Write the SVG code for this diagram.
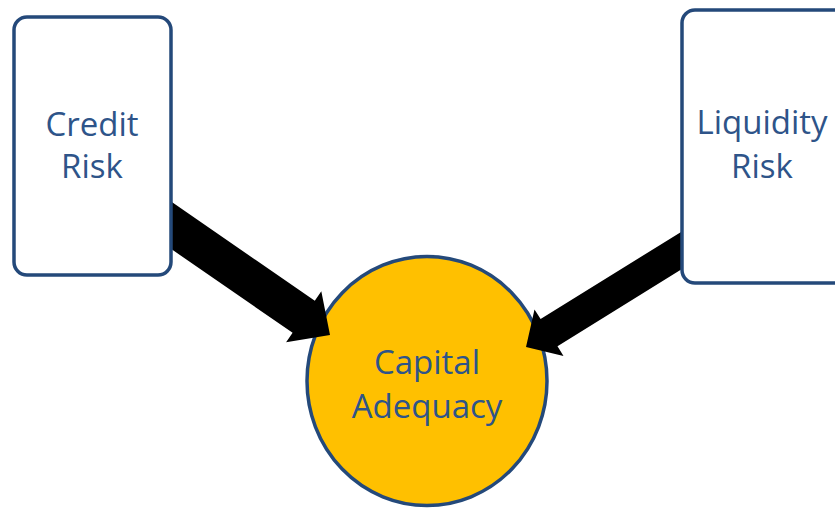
<svg xmlns="http://www.w3.org/2000/svg" width="835" height="508" viewBox="0 0 835 508">
  <style>
    .box { fill: #ffffff; stroke: #24497a; stroke-width: 3.5; }
    .hub { fill: #ffc000; stroke: #24497a; stroke-width: 3.5; }
    .arrow { fill: #000000; stroke: none; }
    .label { font-family: "Open Sans", "Noto Sans", "Liberation Sans", sans-serif; font-size: 33px; fill: #2e5489; text-anchor: middle; }
  </style>
  <rect width="835" height="508" fill="#ffffff"/>

  <g id="capital-adequacy">
    <ellipse class="hub" cx="427" cy="381" rx="120" ry="124.5"/>
    <text class="label" x="427" y="374">Capital</text>
    <text class="label" x="427" y="418">Adequacy</text>
  </g>

  <g id="connectors">
    <polygon class="arrow" points="171.1,201.6 314.8,300.8 321.3,291.3 330,335 286.1,342.3 292.6,332.8 148.9,233.6"/>
    <polygon class="arrow" points="683.5,230.4 540.6,319.1 534.5,309.4 526,347 563.5,356 557.5,346.3 700.5,257.6"/>
  </g>

  <g id="credit-risk">
    <rect class="box" x="14" y="17" width="157" height="258" rx="13"/>
    <text class="label" x="92" y="136">Credit</text>
    <text class="label" x="92" y="178">Risk</text>
  </g>

  <g id="liquidity-risk">
    <rect class="box" x="682" y="10" width="175" height="273" rx="13"/>
    <text class="label" x="762" y="134">Liquidity</text>
    <text class="label" x="762" y="178">Risk</text>
  </g>
</svg>
